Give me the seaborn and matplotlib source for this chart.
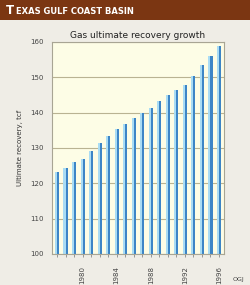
import matplotlib
matplotlib.use("Agg")
import matplotlib.pyplot as plt
import seaborn as sns
import pandas as pd
from matplotlib.patches import Rectangle

years = list(range(1977, 1997))
recovery = [123.2, 124.4, 126.0, 126.8, 129.2, 131.4, 133.3, 135.3, 136.8, 138.4,
            139.8, 141.2, 143.2, 145.0, 146.5, 147.9, 150.4, 153.4, 156.1, 158.9]
label_years = [1980, 1984, 1988, 1992, 1996]
title = "Gas ultimate recovery growth"
ylabel = "Ultimate recovery, tcf"

sns.set_style("white")
plt.rcParams['font.family'] = ['DejaVu Sans']

df = pd.DataFrame({
    "year": [str(y) for y in years] * 2,
    "value": recovery * 2,
    "part": ["light"] * len(years) + ["dark"] * len(years),
})

fig = plt.figure(figsize=(2.5, 2.85), dpi=100)
fig.patch.set_facecolor("#efede6")

# header band
fig.add_artist(Rectangle((0, 0.93), 1, 0.07, transform=fig.transFigure,
                         facecolor="#7b3612", edgecolor="none"))
fig.text(0.024, 0.962, "T", color="white", fontsize=8.5, fontweight="bold",
         family="DejaVu Sans", va="center", ha="left")
fig.text(0.062, 0.958, "EXAS GULF COAST BASIN", color="white", fontsize=6,
         fontweight="bold", family="DejaVu Sans", va="center", ha="left")

ax = fig.add_axes([0.208, 0.109, 0.688, 0.744])
ax.set_facecolor("#fdfde6")
sns.barplot(data=df, x="year", y="value", hue="part", dodge=True, width=0.5,
            palette={"light": "#a9dcf4", "dark": "#3d85c6"}, ax=ax,
            legend=False, saturation=1, linewidth=0)

ax.set_ylim(100, 160)
ax.set_yticks(range(100, 161, 10))
ax.set_xlim(-0.6, len(years) - 0.4)
ax.set_xticks(range(len(years)))
ax.set_xticklabels([str(y) if y in label_years else "" for y in years],
                   rotation=90, fontsize=5, color="#444444")
ax.tick_params(axis="y", labelsize=5, labelcolor="#444444", length=0, pad=6)
ax.tick_params(axis="x", length=2.5, width=0.6, color="#888888", pad=6, bottom=True)
ax.grid(axis="y", color="#b9b392", linewidth=0.8)
ax.set_axisbelow(True)
for s in ax.spines.values():
    s.set_color("#a8a594")
    s.set_linewidth(0.8)
ax.set_xlabel("")
ax.set_ylabel(ylabel, fontsize=5, color="#333333", labelpad=5)

fig.text(0.552, 0.877, title, fontsize=6.5, ha="center", va="center", color="#222222")
fig.text(0.955, 0.018, "OGJ", fontsize=4.5, ha="center", va="center", color="#444444")

fig.savefig("out.png", dpi=100, facecolor=fig.get_facecolor())
